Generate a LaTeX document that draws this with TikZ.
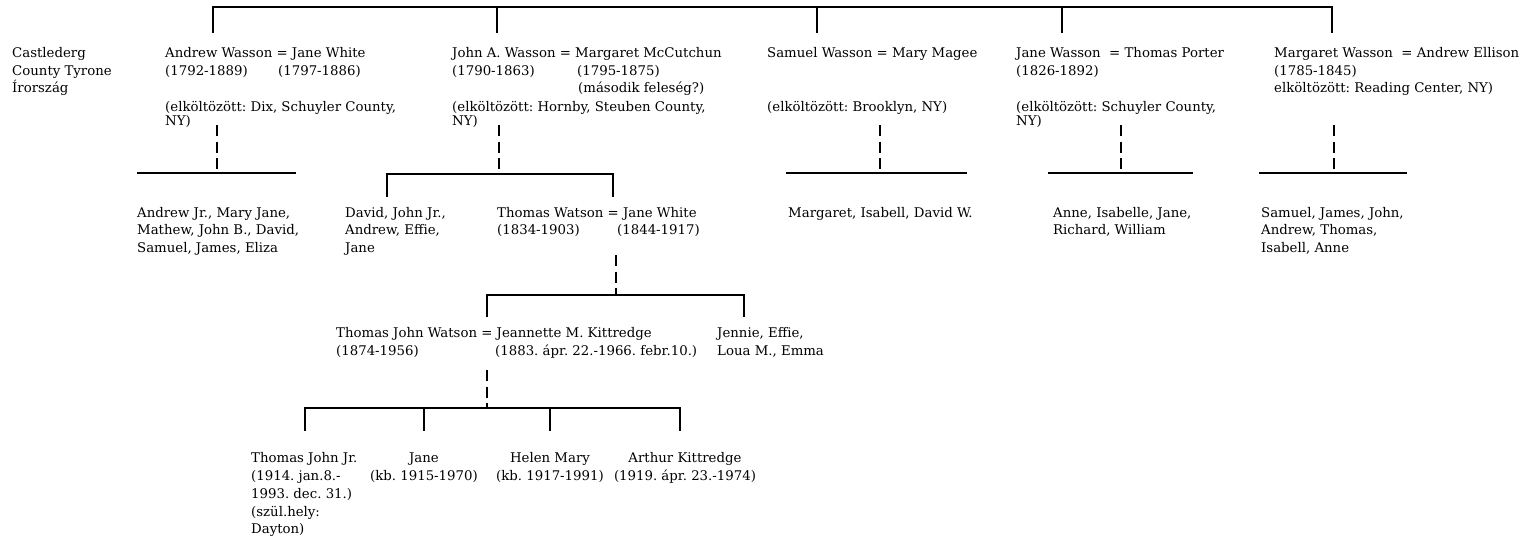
\documentclass[tikz,border=0pt]{standalone}
\usepackage{fontspec}
\setmainfont{DejaVu Serif}
\frenchspacing
\begin{document}
\begin{tikzpicture}[x=1pt,y=-1pt,
  txt/.style={anchor=base west,inner sep=0pt,font=\fontsize{13.3}{16}\selectfont},
  ctxt/.style={anchor=base,inner sep=0pt,font=\fontsize{13.3}{16}\selectfont},
  link/.style={line width=1.4pt},
  dlink/.style={line width=1.4pt,dash pattern=on 11pt off 5.5pt}]
\useasboundingbox (0,0) rectangle (1519,539);
% ---- origin
\node[txt] (c1) at (12,57) {Castlederg};
\node[txt] (c2) at (12,75) {County Tyrone};
\node[txt] (c3) at (12,92) {Írország};
% ---- Andrew
\node[txt] (a1) at (165,57) {Andrew Wasson = Jane White};
\node[txt] (a2) at (165,75) {(1792-1889)};
\node[txt] (a3) at (278,75) {(1797-1886)};
\node[txt] (a4) at (165,111) {(elköltözött: Dix, Schuyler County,};
\node[txt] (a5) at (165,125) {NY)};
% ---- John
\node[txt] (j1) at (452,57) {John A. Wasson = Margaret McCutchun};
\node[txt] (j2) at (452,75) {(1790-1863)};
\node[txt] (j3) at (577,75) {(1795-1875)};
\node[txt] (j4) at (578,92) {(második feleség?)};
\node[txt] (j5) at (452,111) {(elköltözött: Hornby, Steuben County,};
\node[txt] (j6) at (452,125) {NY)};
% ---- Samuel
\node[txt] (s1) at (767,57) {Samuel Wasson = Mary Magee};
\node[txt] (s2) at (767,111) {(elköltözött: Brooklyn, NY)};
% ---- Jane
\node[txt] (w1) at (1016,57) {Jane Wasson\ \ = Thomas Porter};
\node[txt] (w2) at (1016,75) {(1826-1892)};
\node[txt] (w3) at (1016,111) {(elköltözött: Schuyler County,};
\node[txt] (w4) at (1016,125) {NY)};
% ---- Margaret
\node[txt] (m1) at (1274,57) {Margaret Wasson\ \ = Andrew Ellison};
\node[txt] (m2) at (1274,75) {(1785-1845)};
\node[txt] (m3) at (1274,92) {elköltözött: Reading Center, NY)};
% ---- children row
\node[txt] (ac1) at (137,217) {Andrew Jr., Mary Jane,};
\node[txt] (ac2) at (137,234) {Mathew, John B., David,};
\node[txt] (ac3) at (137,252) {Samuel, James, Eliza};
\node[txt] (jc1) at (345,217) {David, John Jr.,};
\node[txt] (jc2) at (345,234) {Andrew, Effie,};
\node[txt] (jc3) at (345,252) {Jane};
\node[txt] (tw1) at (497,217) {Thomas Watson = Jane White};
\node[txt] (tw2) at (497,234) {(1834-1903)};
\node[txt] (tw3) at (617,234) {(1844-1917)};
\node[txt] (sc1) at (788,217) {Margaret, Isabell, David W.};
\node[txt] (wc1) at (1053,217) {Anne, Isabelle, Jane,};
\node[txt] (wc2) at (1053,234) {Richard, William};
\node[txt] (mc1) at (1261,217) {Samuel, James, John,};
\node[txt] (mc2) at (1261,234) {Andrew, Thomas,};
\node[txt] (mc3) at (1261,252) {Isabell, Anne};
% ---- third row
\node[txt] (tj1) at (336,337) {Thomas John Watson = Jeannette M. Kittredge};
\node[txt] (tj2) at (336,355) {(1874-1956)};
\node[txt] (tj3) at (495,355) {(1883. ápr. 22.-1966. febr.10.)};
\node[txt] (je1) at (717,337) {Jennie, Effie,};
\node[txt] (je2) at (717,355) {Loua M., Emma};
% ---- fourth row
\node[txt] (b1) at (251,462) {Thomas John Jr.};
\node[txt] (b2) at (251,480) {(1914. jan.8.-};
\node[txt] (b3) at (251,498) {1993. dec. 31.)};
\node[txt] (b4) at (251,516) {(szül.hely:};
\node[txt] (b5) at (251,533) {Dayton)};
\node[ctxt] (ja1) at (424,462) {Jane};
\node[ctxt] (ja2) at (424,480) {(kb. 1915-1970)};
\node[ctxt] (hm1) at (550,462) {Helen Mary};
\node[ctxt] (hm2) at (550,480) {(kb. 1917-1991)};
\node[ctxt] (ak1) at (685,462) {Arthur Kittredge};
\node[ctxt] (ak2) at (685,480) {(1919. ápr. 23.-1974)};
% ---- coordinates
\coordinate (tL) at (213,7);  \coordinate (tR) at (1332,7);
\coordinate (dA) at (213,33); \coordinate (dJ) at (497,33);
\coordinate (dS) at (817,33); \coordinate (dW) at (1062,33);
\coordinate (dM) at (1332,33);
\coordinate (tJ) at (497,7); \coordinate (tS) at (817,7); \coordinate (tW) at (1062,7);
% top bracket
\draw[link] (dA) -- (tL) -- (tR) -- (dM);
\draw[link] (tJ) -- (dJ);
\draw[link] (tS) -- (dS);
\draw[link] (tW) -- (dW);
% Andrew children
\coordinate (aD1) at (217,125); \coordinate (aD2) at (217,173);
\coordinate (aH1) at (137,173); \coordinate (aH2) at (296,173);
\draw[dlink] (aD1) -- (aD2);
\draw[link] (aH1) -- (aH2);
% John children
\coordinate (jD1) at (499,125); \coordinate (jD2) at (499,174);
\coordinate (jH1) at (387,174); \coordinate (jH2) at (613,174);
\coordinate (jV1) at (387,197); \coordinate (jV2) at (613,197);
\draw[dlink] (jD1) -- (jD2);
\draw[link] (jV1) -- (jH1) -- (jH2) -- (jV2);
% Samuel children
\coordinate (sD1) at (880,125); \coordinate (sD2) at (880,173);
\coordinate (sH1) at (786,173); \coordinate (sH2) at (967,173);
\draw[dlink] (sD1) -- (sD2);
\draw[link] (sH1) -- (sH2);
% Jane children
\coordinate (wD1) at (1121,125); \coordinate (wD2) at (1121,173);
\coordinate (wH1) at (1048,173); \coordinate (wH2) at (1193,173);
\draw[dlink] (wD1) -- (wD2);
\draw[link] (wH1) -- (wH2);
% Margaret children
\coordinate (mD1) at (1334,125); \coordinate (mD2) at (1334,173);
\coordinate (mH1) at (1259,173); \coordinate (mH2) at (1407,173);
\draw[dlink] (mD1) -- (mD2);
\draw[link] (mH1) -- (mH2);
% Thomas Watson children
\coordinate (tD1) at (616,255); \coordinate (tD2) at (616,295);
\coordinate (tH1) at (487,295); \coordinate (tH2) at (744,295);
\coordinate (tV1) at (487,317); \coordinate (tV2) at (744,317);
\draw[dlink] (tD1) -- (tD2);
\draw[link] (tV1) -- (tH1) -- (tH2) -- (tV2);
% Thomas John Watson children
\coordinate (kD1) at (487,370); \coordinate (kD2) at (487,408);
\coordinate (kH1) at (305,408); \coordinate (kH2) at (680,408);
\coordinate (kV1) at (305,431); \coordinate (kV4) at (680,431);
\coordinate (kT2) at (424,408); \coordinate (kV2) at (424,431);
\coordinate (kT3) at (550,408); \coordinate (kV3) at (550,431);
\draw[dlink] (kD1) -- (kD2);
\draw[link] (kV1) -- (kH1) -- (kH2) -- (kV4);
\draw[link] (kT2) -- (kV2);
\draw[link] (kT3) -- (kV3);
\end{tikzpicture}
\end{document}
